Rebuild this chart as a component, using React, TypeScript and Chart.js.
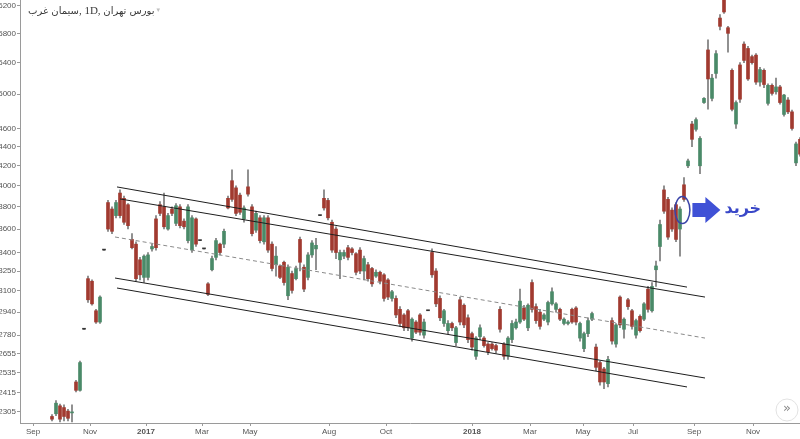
import React, { useEffect, useRef } from 'react';
import { Chart, registerables } from 'chart.js';
Chart.register(...registerables);

// title pieces in the visual left-to-right order seen in the picture
const TITLE_SYMBOL = 'سیمان غرب';
const TITLE_INTERVAL = ', 1D, ';
const TITLE_EXCHANGE = 'بورس تهران';
const BUY_LABEL = 'خرید';

const FIRST_INDEX = 8;
const X_MAX = 195;
const Y_MIN = 2244;
const Y_MAX = 6291;

const yTicks = [2305, 2415, 2535, 2655, 2780, 2940, 3100, 3250, 3400, 3600, 3800, 4000, 4200, 4400, 4600, 5000, 5400, 5800, 6200];
const xTickLabels = ['Sep', 'Nov', '2017', 'Mar', 'May', 'Aug', 'Oct', '2018', 'Mar', 'May', 'Jul', 'Sep', 'Nov'];
const xTickPos = [3.25, 17.5, 31.5, 45.5, 57.5, 77.25, 91.5, 113, 127.5, 140.75, 153.25, 168.5, 183.25];

type OHLC = [number, number, number, number]; // open, high, low, close

const candles2016: OHLC[] = [
  [2280, 2290, 2255, 2265], [2295, 2370, 2285, 2355], [2340, 2350, 2250, 2265], [2330, 2345, 2255, 2280],
  [2310, 2320, 2255, 2270], [2300, 2345, 2250, 2305], [2480, 2490, 2420, 2430], [2430, 2610, 2425, 2600],
  [2820, 2820, 2820, 2820], [3190, 3210, 3010, 3030], [3170, 3180, 2990, 3000], [2950, 2960, 2860, 2870],
  [2870, 3060, 2860, 3050], [3420, 3420, 3420, 3420],
];

const candlesEarly2017: OHLC[] = [
  [3840, 3860, 3580, 3600], [3780, 3800, 3560, 3580], [3720, 3860, 3700, 3840], [3930, 3960, 3700, 3720],
  [3880, 3900, 3640, 3660], [3820, 3830, 3600, 3630], [3510, 3560, 3430, 3440], [3470, 3490, 3170, 3190],
  [3340, 3360, 3180, 3220], [3200, 3380, 3160, 3370], [3200, 3400, 3180, 3380], [3430, 3470, 3410, 3450],
  [3690, 3720, 3420, 3440], [3820, 3850, 3720, 3740], [3800, 3930, 3600, 3620], [3600, 3740, 3590, 3720],
  [3780, 3800, 3720, 3740], [3650, 3830, 3630, 3810], [3800, 3820, 3610, 3630], [3670, 3690, 3600, 3620],
  [3500, 3820, 3480, 3800], [3420, 3720, 3400, 3700], [3690, 3700, 3450, 3470], [3500, 3500, 3500, 3500],
  [3430, 3430, 3430, 3430], [3150, 3160, 3060, 3070], [3260, 3370, 3250, 3350], [3360, 3520, 3340, 3500],
  [3470, 3480, 3380, 3400], [3470, 3600, 3440, 3580],
];

const candlesLate2017: OHLC[] = [
  [3880, 3900, 3780, 3790], [4050, 4160, 3850, 3870], [3980, 4000, 3720, 3740], [3910, 3930, 3730, 3750],
  [3690, 3810, 3660, 3790], [3990, 4160, 3900, 3920], [3800, 3820, 3540, 3560], [3590, 3760, 3570, 3740],
  [3700, 3720, 3480, 3500], [3490, 3720, 3470, 3700], [3700, 3720, 3400, 3420], [3470, 3490, 3250, 3270],
  [3300, 3450, 3210, 3370], [3290, 3300, 3190, 3200], [3320, 3330, 3140, 3160], [3060, 3300, 3030, 3280],
  [3230, 3250, 3080, 3100], [3190, 3290, 3180, 3270], [3510, 3530, 3250, 3320], [3280, 3300, 3090, 3110],
  [3200, 3400, 3180, 3380], [3380, 3500, 3360, 3480], [3430, 3520, 3260, 3460], [3720, 3720, 3720, 3720],
  [3880, 3960, 3770, 3790], [3860, 3880, 3680, 3700], [3660, 3680, 3400, 3420], [3600, 3620, 3350, 3400],
  [3340, 3420, 3190, 3400], [3370, 3420, 3350, 3400], [3440, 3460, 3340, 3360], [3430, 3440, 3380, 3400],
  [3390, 3400, 3220, 3240], [3420, 3440, 3230, 3250], [3250, 3370, 3180, 3350], [3300, 3320, 3170, 3190],
  [3270, 3280, 3130, 3150], [3210, 3260, 3200, 3240], [3240, 3250, 3150, 3170], [3220, 3230, 3020, 3040],
  [3180, 3190, 3030, 3050], [3040, 3100, 3020, 3090], [3040, 3060, 2900, 2920], [2960, 2980, 2840, 2860],
  [2920, 2930, 2810, 2830], [2950, 2960, 2810, 2830], [2760, 2900, 2740, 2890], [2870, 2880, 2790, 2800],
  [2920, 2930, 2780, 2800], [2780, 2890, 2760, 2870], [2950, 2950, 2950, 2950],
];

const candlesEarly2018: OHLC[] = [
  [3400, 3430, 3200, 3220], [3250, 3270, 2980, 3000], [3040, 3060, 2880, 2900], [2860, 2960, 2840, 2950],
  [2810, 2880, 2790, 2860], [2860, 2870, 2810, 2830], [2730, 2840, 2710, 2830], [3030, 3050, 2850, 2870],
  [2990, 3000, 2830, 2850], [2900, 2920, 2730, 2750], [2790, 2800, 2680, 2700], [2640, 2770, 2620, 2760],
  [2770, 2850, 2750, 2830], [2760, 2770, 2700, 2710], [2720, 2730, 2650, 2670], [2720, 2730, 2680, 2690],
  [2710, 2720, 2660, 2680], [2960, 2980, 2800, 2820], [2720, 2730, 2620, 2640], [2640, 2770, 2620, 2760],
  [2750, 2880, 2730, 2860], [2830, 2890, 2820, 2870], [2870, 3110, 2860, 3020], [2970, 2990, 2880, 2890],
  [2830, 3000, 2810, 2990], [3160, 3180, 2940, 2960], [2980, 3000, 2860, 2880], [2940, 2960, 2820, 2840],
  [2890, 2930, 2880, 2920], [2870, 3020, 2850, 3010], [3000, 3120, 2990, 3090], [2960, 3010, 2940, 3000],
  [2960, 2970, 2880, 2890], [2860, 2900, 2850, 2890], [2860, 2880, 2850, 2870], [2960, 2970, 2860, 2870],
  [2970, 2980, 2850, 2870], [2760, 2870, 2740, 2860], [2690, 2800, 2670, 2790], [2790, 2900, 2770, 2880],
  [2890, 2940, 2880, 2930], [2700, 2720, 2550, 2570], [2600, 2610, 2460, 2480], [2560, 2570, 2440, 2480],
  [2470, 2640, 2450, 2620],
];

const candlesLate2018: OHLC[] = [
  [2880, 2900, 2720, 2740], [2720, 2860, 2700, 2850], [3050, 3060, 2830, 2850], [2820, 2900, 2760, 2890],
  [3030, 3040, 2960, 2980], [2950, 2960, 2820, 2840], [2780, 2890, 2760, 2880], [2910, 2920, 2800, 2810],
  [2890, 3010, 2880, 3000], [3110, 3130, 2940, 2960], [2950, 3160, 2940, 3130], [3260, 3330, 3130, 3290],
  [3450, 3680, 3330, 3640], [3960, 4000, 3740, 3760], [3870, 3890, 3510, 3530], [3770, 3790, 3580, 3600],
  [3820, 3840, 3490, 3510], [3600, 3800, 3370, 3780], [4010, 4080, 3850, 3870], [4200, 4270, 4180, 4250],
  [4650, 4680, 4400, 4480], [4590, 4720, 4570, 4700], [4200, 4510, 4120, 4490], [4900, 4960, 4890, 4950],
  [5570, 5710, 4820, 5190], [4950, 5250, 4920, 5200], [5260, 5560, 5200, 5520], [6020, 6070, 5850, 5900],
  [6290, 6290, 6090, 6110], [5880, 5900, 5540, 5800], [5300, 5320, 4800, 4820], [4650, 4920, 4600, 4900],
  [5370, 5400, 4900, 4940], [5650, 5680, 5400, 5430], [5590, 5620, 5170, 5190], [5480, 5500, 5380, 5400],
  [5500, 5520, 5120, 5150], [5150, 5340, 5100, 5310], [5300, 5320, 5080, 5120], [4890, 5130, 4870, 5110],
  [5110, 5130, 4990, 5010], [5030, 5200, 5000, 5090], [5090, 5110, 4880, 4900], [4760, 5000, 4740, 4990],
  [4930, 4960, 4770, 4790], [4790, 4810, 4580, 4600], [4230, 4450, 4200, 4430], [4480, 4500, 4300, 4320],
];

// channel lines: [start index, start price, end index, end price]
const channelUpperOuter = [24.25, 3989, 166.75, 3125];
const channelUpperInner = [25, 3874, 171.25, 3050];
const channelMiddle = [23.75, 3531, 171.25, 2760];
const channelLowerInner = [23.75, 3195, 171.25, 2504];
const channelLowerOuter = [24.25, 3118, 166.75, 2450];

const buyPoint = { x: 165.6, y: 3770 };

const UP = '#4a8a68';
const DOWN = '#a13a30';
const DASH = '#333333';
const WICK = '#7a7a7a';

const allCandles: OHLC[] = [...candles2016, ...candlesEarly2017, ...candlesLate2017, ...candlesEarly2018, ...candlesLate2018];

function candleColor(c: OHLC) {
  if (c[1] === c[2]) return DASH;
  return c[3] >= c[0] ? UP : DOWN;
}

function lineDataset(seg: number[], dashed: boolean) {
  return {
    type: 'line' as const,
    data: [{ x: seg[0], y: seg[1] }, { x: seg[2], y: seg[3] }],
    borderColor: dashed ? '#8a8a8a' : '#1e1e1e',
    borderWidth: 1,
    borderDash: dashed ? [4, 3] : [],
    pointRadius: 0,
    order: 0,
  };
}

const overlayPlugin = {
  id: 'overlay',
  afterDraw(chart: any) {
    const ctx = chart.ctx as CanvasRenderingContext2D;
    const xs = chart.scales.x;
    const ys = chart.scales.y;
    // title, drawn piece by piece so the bidi order matches the picture
    ctx.save();
    (ctx as any).direction = 'ltr';
    ctx.fillStyle = '#3a3a3a';
    ctx.textBaseline = 'middle';
    ctx.textAlign = 'left';
    let tx = 28;
    const pieces: [string, string][] = [
      [TITLE_SYMBOL, '10px "DejaVu Sans"'],
      [TITLE_INTERVAL, '11px "Liberation Serif"'],
      [TITLE_EXCHANGE, '10px "DejaVu Sans"'],
    ];
    for (const [part, font] of pieces) {
      ctx.font = font;
      ctx.fillText(part, tx, 11);
      tx += ctx.measureText(part).width;
    }
    ctx.font = '7px "DejaVu Sans"';
    ctx.fillStyle = '#c0c0c0';
    ctx.fillText('▾', tx + 2, 10);
    ctx.restore();

    // buy annotation
    const cx = xs.getPixelForValue(buyPoint.x);
    const cy = ys.getPixelForValue(buyPoint.y);
    ctx.save();
    ctx.strokeStyle = '#3a44a8';
    ctx.lineWidth = 1.5;
    ctx.beginPath();
    ctx.ellipse(cx, cy, 7.5, 13.5, 0, 0, Math.PI * 2);
    ctx.stroke();
    ctx.fillStyle = '#3f51d6';
    ctx.beginPath();
    ctx.moveTo(cx + 10, cy - 7);
    ctx.lineTo(cx + 23, cy - 7);
    ctx.lineTo(cx + 23, cy - 13);
    ctx.lineTo(cx + 38, cy);
    ctx.lineTo(cx + 23, cy + 13);
    ctx.lineTo(cx + 23, cy + 7);
    ctx.lineTo(cx + 10, cy + 7);
    ctx.closePath();
    ctx.fill();
    ctx.fillStyle = '#3a48c8';
    ctx.font = 'bold 16px "DejaVu Sans"';
    ctx.textBaseline = 'middle';
    ctx.textAlign = 'left';
    ctx.fillText(BUY_LABEL, cx + 42, cy - 1);
    ctx.restore();

    // scroll button
    ctx.save();
    ctx.fillStyle = '#ffffff';
    ctx.strokeStyle = '#e2e2e2';
    ctx.lineWidth = 1;
    ctx.beginPath();
    ctx.arc(787, 410, 11, 0, Math.PI * 2);
    ctx.fill();
    ctx.stroke();
    ctx.fillStyle = '#8a8a8a';
    ctx.font = '13px "DejaVu Sans"';
    ctx.textAlign = 'center';
    ctx.textBaseline = 'middle';
    ctx.fillText('»', 787, 409);
    ctx.restore();
  },
};

export default function App() {
  const ref = useRef<HTMLCanvasElement | null>(null);
  useEffect(() => {
    document.body.style.margin = '0';
    if (!ref.current) return;
    const wicks = allCandles.map((c, i) => ({ x: FIRST_INDEX + i, y: [c[2], c[1]] }));
    const bodies = allCandles.map((c, i) => ({ x: FIRST_INDEX + i, y: [Math.min(c[0], c[3]), Math.max(c[0], c[3])] }));
    const colors = allCandles.map(candleColor);
    const chart = new Chart(ref.current, {
      type: 'bar',
      data: {
        datasets: [
          lineDataset(channelUpperOuter, false),
          lineDataset(channelUpperInner, false),
          lineDataset(channelMiddle, true),
          lineDataset(channelLowerInner, false),
          lineDataset(channelLowerOuter, false),
          {
            type: 'bar',
            data: bodies,
            backgroundColor: colors,
            barThickness: 3,
            minBarLength: 1,
            grouped: false,
            order: 1,
          } as any,
          {
            type: 'bar',
            data: wicks,
            backgroundColor: allCandles.map((c) => (c[1] === c[2] ? DASH : WICK)),
            barThickness: 1,
            grouped: false,
            order: 2,
          } as any,
        ],
      },
      options: {
        responsive: false,
        animation: false,
        devicePixelRatio: 1,
        layout: { padding: 0 },
        plugins: { legend: { display: false }, tooltip: { enabled: false } },
        scales: {
          x: {
            type: 'linear',
            min: 0,
            max: X_MAX,
            offset: false,
            grid: { offset: false, drawOnChartArea: false, drawTicks: true, tickLength: 3, color: '#9a9a9a' },
            border: { display: true, color: '#9a9a9a' },
            afterBuildTicks: (scale: any) => {
              scale.ticks = xTickPos.map((v) => ({ value: v }));
            },
            afterFit: (scale: any) => {
              scale.height = 16;
              scale.paddingLeft = 0;
              scale.paddingRight = 0;
            },
            ticks: {
              autoSkip: false,
              maxRotation: 0,
              padding: 1,
              color: '#555555',
              font: (ctx: any) => ({
                family: '"Liberation Sans", Arial, sans-serif',
                size: 8,
                weight: xTickLabels[ctx.index] && xTickLabels[ctx.index].startsWith('20') ? 'bold' : 'normal',
              }),
              callback: (_v: any, i: number) => xTickLabels[i],
            },
          },
          y: {
            type: 'logarithmic',
            min: Y_MIN,
            max: Y_MAX,
            grid: { drawOnChartArea: false, drawTicks: true, tickLength: 3, color: '#9a9a9a' },
            border: { display: true, color: '#9a9a9a' },
            afterBuildTicks: (scale: any) => {
              scale.ticks = yTicks.map((v) => ({ value: v }));
            },
            afterFit: (scale: any) => {
              scale.width = 20;
              scale.paddingTop = 0;
              scale.paddingBottom = 0;
            },
            ticks: {
              autoSkip: false,
              padding: 1,
              color: '#555555',
              font: { family: '"Liberation Sans", Arial, sans-serif', size: 8 },
              callback: (v: any) => String(v),
            },
          },
        },
      } as any,
      plugins: [overlayPlugin],
    });
    return () => chart.destroy();
  }, []);
  return <canvas ref={ref} width={800} height={439} style={{ display: 'block' }} />;
}
